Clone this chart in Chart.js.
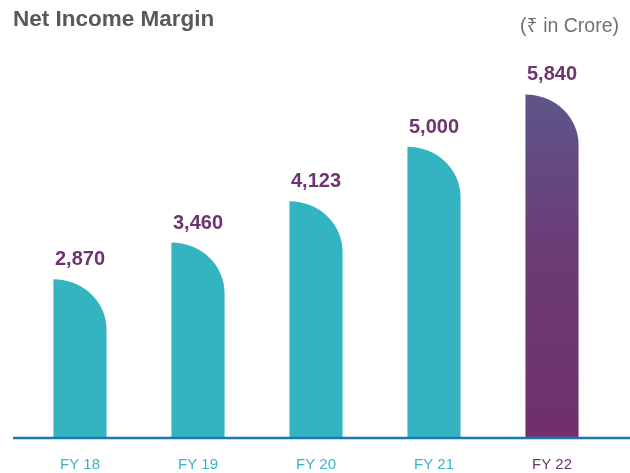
<!DOCTYPE html>
<html>
<head>
<meta charset="utf-8">
<script src="https://cdn.jsdelivr.net/npm/chart.js@4.4.1/dist/chart.umd.min.js"></script>
<style>
  html, body { margin: 0; padding: 0; background: #fff; }
  #wrap { position: relative; width: 630px; height: 473px; }
  #title {
    position: absolute; left: 13px; top: 6px;
    font: bold 22.5px "Liberation Sans", Arial, sans-serif; color: #595959;
  }
  #unit {
    position: absolute; right: 11px; top: 11px;
    font: 19.5px "Liberation Sans", "Noto Sans", "DejaVu Sans", sans-serif; color: #707070;
  }
</style>
</head>
<body>
<div id="wrap">
  <canvas id="chart" width="630" height="473"></canvas>
  <div id="title">Net Income Margin</div>
  <div id="unit">(₹ in Crore)</div>
</div>
<script>
const years = ['FY 18', 'FY 19', 'FY 20', 'FY 21', 'FY 22'];
const income = [2870, 3460, 4123, 5000, 5840];
const valueLabels = ['2,870', '3,460', '4,123', '5,000', '5,840'];

const teal = '#34b3c1';
const purple = '#6e3470';

// bars with a big rounded top-right corner (quarter ellipse)
Chart.BarElement.prototype.draw = function (ctx) {
  const { x, y, base, width } = this.getProps(['x', 'y', 'base', 'width']);
  const left = x - width / 2;
  const right = x + width / 2;
  const ry = Math.min(width * 0.95, base - y);
  ctx.save();
  ctx.fillStyle = this.options.backgroundColor;
  ctx.beginPath();
  ctx.moveTo(left, base);
  ctx.lineTo(left, y);
  ctx.ellipse(left, y + ry, width, ry, 0, -Math.PI / 2, 0);
  ctx.lineTo(right, base);
  ctx.closePath();
  ctx.fill();
  ctx.restore();
};

const extras = {
  id: 'extras',
  afterDatasetsDraw(chart) {
    const ctx = chart.ctx;
    const area = chart.chartArea;
    // base line
    ctx.save();
    ctx.strokeStyle = '#1a78ae';
    ctx.lineWidth = 2.5;
    ctx.beginPath();
    ctx.moveTo(area.left - 8, area.bottom + 1);
    ctx.lineTo(chart.width, area.bottom + 1);
    ctx.stroke();
    // value labels
    ctx.fillStyle = purple;
    ctx.font = 'bold 20px "Liberation Sans", Arial, sans-serif';
    ctx.textAlign = 'center';
    ctx.textBaseline = 'alphabetic';
    chart.getDatasetMeta(0).data.forEach((bar, i) => {
      ctx.fillText(valueLabels[i], bar.x, bar.y - 14);
    });
    ctx.restore();
  }
};

new Chart(document.getElementById('chart'), {
  type: 'bar',
  data: {
    labels: years,
    datasets: [{
      data: income,
      backgroundColor: (c) => {
        if (c.dataIndex !== years.length - 1) return teal;
        const chart = c.chart;
        if (!chart.chartArea) return purple;
        const top = chart.scales.y.getPixelForValue(income[c.dataIndex]);
        const g = chart.ctx.createLinearGradient(0, top, 0, chart.chartArea.bottom);
        g.addColorStop(0, '#5e5589');
        g.addColorStop(0.45, '#6a3c76');
        g.addColorStop(1, '#70306b');
        return g;
      },
      barPercentage: 0.45,
      categoryPercentage: 1
    }]
  },
  options: {
    responsive: false,
    animation: false,
    layout: { padding: { left: 21, right: 19, top: 60, bottom: -20 } },
    plugins: { legend: { display: false }, tooltip: { enabled: false } },
    scales: {
      x: {
        grid: { display: false, drawTicks: false },
        border: { display: false },
        ticks: {
          padding: 19,
          color: (c) => c.index === years.length - 1 ? purple : '#3ab4c5',
          font: { family: '"Liberation Sans", Arial, sans-serif', size: 15 }
        }
      },
      y: {
        display: false,
        min: 334,
        max: 6394
      }
    }
  },
  plugins: [extras]
});
</script>
</body>
</html>
